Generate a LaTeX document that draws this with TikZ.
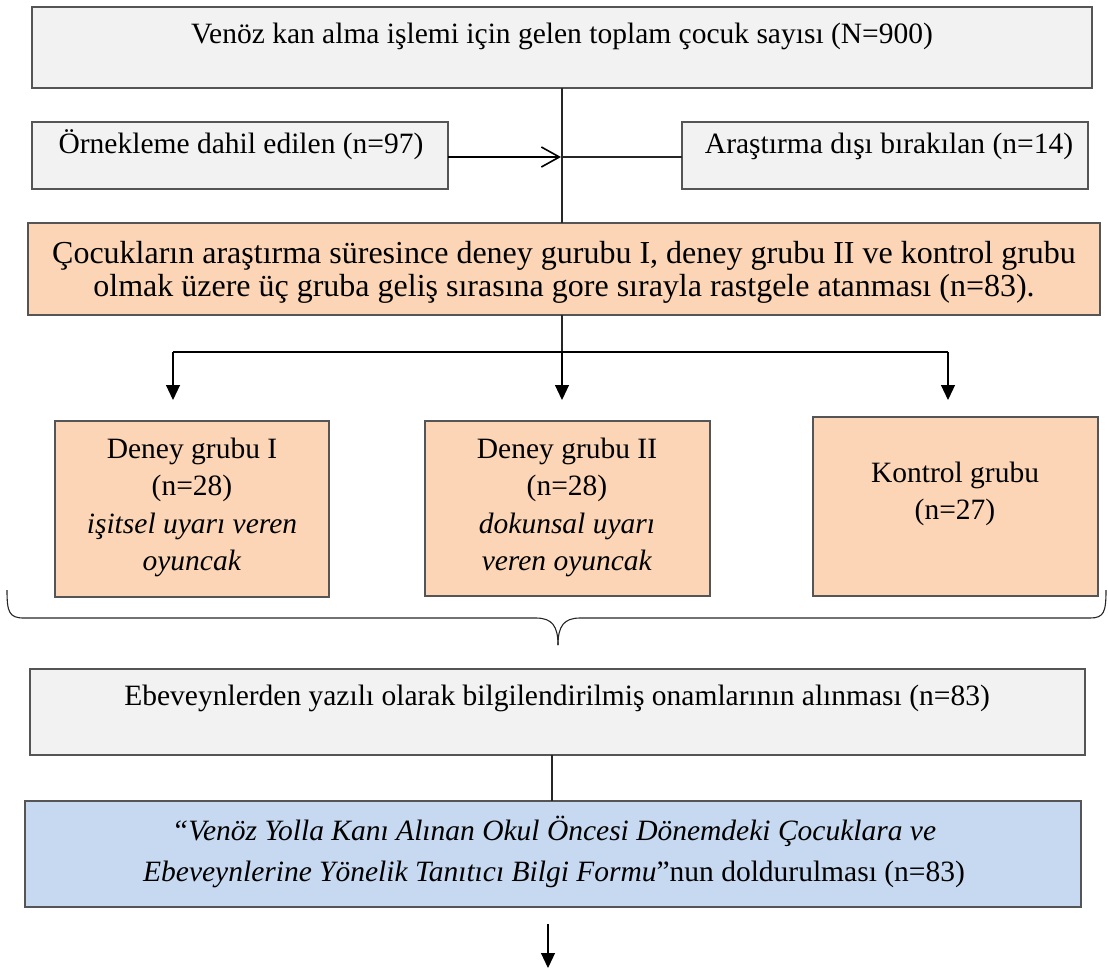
\documentclass[tikz,border=0pt]{standalone}
\usepackage{fontspec}
\setmainfont{Liberation Serif}
\usetikzlibrary{arrows.meta}

\definecolor{boxgrey}{HTML}{F2F2F2}
\definecolor{boxorange}{HTML}{FBD5B5}
\definecolor{boxblue}{HTML}{C6D9F1}
\definecolor{edge}{HTML}{555555}

\tikzset{
  box/.style={draw=edge, line width=1.3pt, inner sep=0pt, outer sep=0pt},
  greybox/.style={box, fill=boxgrey},
  orangebox/.style={box, fill=boxorange},
  bluebox/.style={box, fill=boxblue},
  txt/.style={anchor=base, inner sep=0pt, font=\fontsize{29.5}{37.5}\selectfont},
  bigtxt/.style={anchor=base, inner sep=0pt, font=\fontsize{32}{33}\selectfont},
  formtxt/.style={anchor=base, inner sep=0pt, font=\fontsize{29.5}{41}\selectfont},
  thinline/.style={draw=black!85, line width=1.1pt},
  barline/.style={draw=black, line width=2.4pt},
  openarrow/.style={draw=black, line width=2pt, -{Straight Barb[length=18pt,width=20pt,line width=1.6pt]}},
  downarrow/.style={draw=black, line width=1.1pt, -{Triangle[length=15pt,width=14pt]}},
  braceline/.style={draw=black!85, line width=1.1pt}
}

\begin{document}
\begin{tikzpicture}[x=1pt,y=-1pt]
\useasboundingbox (0,0) rectangle (1108,970);

% boxes
\node[greybox, minimum width=1060pt, minimum height=81pt] (top) at (562,47.5) {};
\node[greybox, minimum width=416pt, minimum height=67pt] (ornek) at (240,155.5) {};
\node[greybox, minimum width=406pt, minimum height=67pt] (aras) at (885,155.5) {};
\node[orangebox, minimum width=1072pt, minimum height=92pt] (atama) at (564,269) {};
\node[orangebox, minimum width=274pt, minimum height=176pt] (g1) at (192,509) {};
\node[orangebox, minimum width=285pt, minimum height=175pt] (g2) at (567.5,508.5) {};
\node[orangebox, minimum width=285pt, minimum height=179pt] (g3) at (955.5,506.5) {};
\node[greybox, minimum width=1055pt, minimum height=86pt] (onam) at (557.5,712) {};
\node[bluebox, minimum width=1056pt, minimum height=106pt] (form) at (553,854) {};

% texts
\node[txt] (topt) at (562,43) {Venöz kan alma işlemi için gelen toplam çocuk sayısı (N=900)};
\node[txt] (ornekt) at (241,153) {Örnekleme dahil edilen (n=97)};
\node[txt] (arast) at (889,153) {Araştırma dışı bırakılan (n=14)};
\node[bigtxt] (atamat) at (564,263) {\begin{tabular}[t]{@{}c@{}}
  Çocukların araştırma süresince deney gurubu I, deney grubu II ve kontrol grubu\\
  olmak üzere üç gruba geliş sırasına gore sırayla rastgele atanması (n=83).
\end{tabular}};
\node[txt] (g1t) at (192,458) {\begin{tabular}[t]{@{}c@{}}
  Deney grubu I\\ (n=28)\\ \textit{işitsel uyarı veren}\\ \textit{oyuncak}
\end{tabular}};
\node[txt] (g2t) at (567,458) {\begin{tabular}[t]{@{}c@{}}
  Deney grubu II\\ (n=28)\\ \textit{dokunsal uyarı}\\ \textit{veren oyuncak}
\end{tabular}};
\node[txt] (g3t) at (955,482) {\begin{tabular}[t]{@{}c@{}}
  Kontrol grubu\\ (n=27)
\end{tabular}};
\node[txt] (onamt) at (557,705) {Ebeveynlerden yazılı olarak bilgilendirilmiş onamlarının alınması (n=83)};
\node[formtxt] (formt) at (554,840) {\begin{tabular}[t]{@{}c@{}}
  \textit{“Venöz Yolla Kanı Alınan Okul Öncesi Dönemdeki Çocuklara ve}\\
  \textit{Ebeveynlerine Yönelik Tanıtıcı Bilgi Formu}”nun doldurulması (n=83)
\end{tabular}};

% helper points
\coordinate (j) at (562,157);
\coordinate (bl) at (173,352);
\coordinate (bm) at (562,352);
\coordinate (br) at (948,352);
\coordinate (a1) at (173,400);
\coordinate (a2) at (562,400);
\coordinate (a3) at (948,400);
\coordinate (bL) at (7,590);
\coordinate (bR) at (1106,590);
\coordinate (bT) at (558,645);
\coordinate (cx) at (552,0);
\coordinate (fs) at (548,924);
\coordinate (fe) at (548,968);

% connectors
\draw[thinline] (top.south -| j) -- (atama.north -| j);
\draw[openarrow] (ornek.east |- j) -- ([xshift=-1pt]j);
\draw[thinline] (j) -- (aras.west |- j);
\draw[thinline] (atama.south -| bm) -- (bm);
\draw[barline] (bl) -- (br);
\draw[downarrow] (bl) -- (a1);
\draw[downarrow] (bm) -- (a2);
\draw[downarrow] (br) -- (a3);

% brace under the three groups
\draw[braceline] (bL) .. controls (7,612) and (9,618) .. (24,618) -- (536,618)
  .. controls (552,618) and (558,626) .. (bT);
\draw[braceline] (bR) .. controls (1106,612) and (1104,618) .. (1090,618) -- (580,618)
  .. controls (564,618) and (558,626) .. (bT);

\draw[thinline] (onam.south -| cx) -- (form.north -| cx);
\draw[downarrow] (fs) -- (fe);
\end{tikzpicture}
\end{document}
